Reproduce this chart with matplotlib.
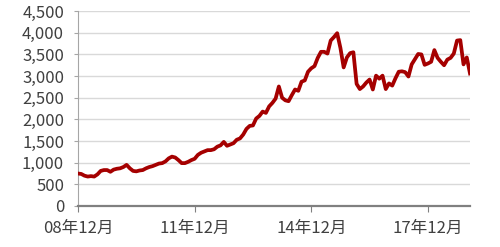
import numpy as np
import matplotlib
matplotlib.use('Agg')
import matplotlib.pyplot as plt

plt.rcParams['font.family'] = ['Noto Sans CJK JP', 'DejaVu Sans']

# monthly values, 2008-12 .. 2019-01
values = [750, 740, 700, 680, 690, 680, 730, 810, 830, 830,
          790, 840, 860, 870, 900, 950, 870, 810, 800, 820,
          830, 870, 900, 920, 950, 980, 990, 1030, 1100, 1140,
          1120, 1060, 990, 990, 1020, 1060, 1090, 1180, 1230, 1260,
          1290, 1290, 1310, 1370, 1400, 1480, 1390, 1420, 1450, 1530,
          1560, 1650, 1780, 1850, 1860, 2020, 2080, 2180, 2150, 2300,
          2380, 2480, 2760, 2500, 2440, 2420, 2560, 2690, 2660, 2870,
          2900, 3100, 3180, 3230, 3420, 3560, 3560, 3520, 3820, 3900,
          3990, 3650, 3200, 3430, 3530, 3550, 2820, 2700, 2760, 2850,
          2920, 2690, 3010, 2940, 3010, 2700, 2830, 2780, 2950, 3100,
          3110, 3090, 2990, 3270, 3390, 3510, 3500, 3260, 3290, 3330,
          3600, 3420, 3330, 3250, 3380, 3420, 3520, 3820, 3830, 3270,
          3430, 3060]
tick_pos = [0, 36, 72, 108]
tick_labels = ['08年12月', '11年12月', '14年12月', '17年12月']
y_ticks = np.arange(0, 4501, 500)

fig = plt.figure(figsize=(5, 2.47), dpi=100)
ax = fig.add_axes([0.156, 0.166, 0.784, 0.789])

x = np.arange(len(values))
ax.plot(x, values, color='#a50000', lw=2.7, solid_joinstyle='round', zorder=3)

ax.set_xlim(0, len(values) - 1)
ax.set_ylim(0, 4500)
ax.set_yticks(y_ticks)
ax.set_yticklabels(['{:,}'.format(v) for v in y_ticks])
ax.set_xticks(tick_pos)
ax.set_xticklabels(tick_labels)

ax.grid(axis='y', color='#d9d9d9', lw=1)
ax.set_axisbelow(True)
for s in ['top', 'right']:
    ax.spines[s].set_visible(False)
ax.spines['left'].set_color('#a6a6a6')
ax.spines['bottom'].set_color('#808080')
ax.spines['bottom'].set_linewidth(1.6)
ax.tick_params(axis='y', length=3, color='#a6a6a6', labelsize=12, labelcolor='#404040', pad=7)
ax.tick_params(axis='x', length=4, color='#808080', labelsize=12, labelcolor='#404040', pad=6)

fig.savefig('out.png', dpi=100)
